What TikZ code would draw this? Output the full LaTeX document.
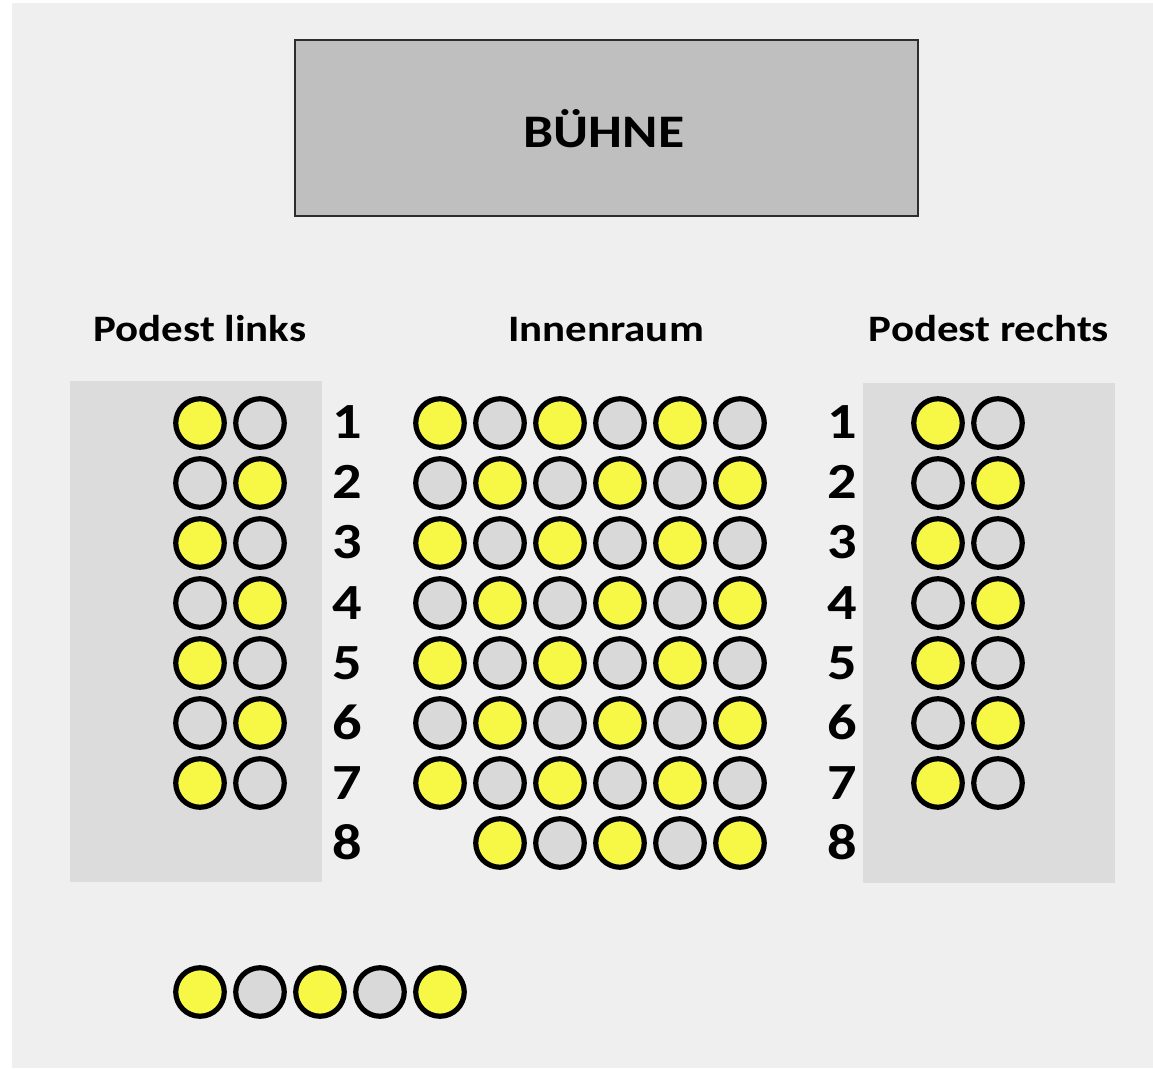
\documentclass[tikz,border=0pt]{standalone}
\usepackage{fontspec}
\setmainfont[FakeStretch=1.15]{Carlito}
\begin{document}
\begin{tikzpicture}[x=0.75pt,y=-0.75pt,
  seatY/.style={circle,draw=black,line width=3.9pt,fill=seatyellow,minimum size=48.5*0.75pt,inner sep=0pt},
  seatG/.style={circle,draw=black,line width=3.9pt,fill=seatgray,minimum size=48.5*0.75pt,inner sep=0pt},
  rownum/.style={font=\fontsize{38}{42}\selectfont\bfseries,inner sep=0pt,anchor=base},
  head/.style={font=\fontsize{28}{32}\selectfont\bfseries,inner sep=0pt,anchor=base}]
\definecolor{seatyellow}{RGB}{247,247,70}
\definecolor{seatgray}{RGB}{217,217,217}
\definecolor{bgc}{RGB}{239,239,239}
\definecolor{podc}{RGB}{220,220,220}
\definecolor{stagec}{RGB}{191,191,191}
\definecolor{stageline}{RGB}{45,45,45}
\useasboundingbox (0,0) rectangle (1153,1069);
\fill[white] (0,0) rectangle (1153,1069);
\fill[bgc] (12,3) rectangle (1153,1068);
% stage
\draw[stageline,fill=stagec,line width=1.6pt] (295,40) rectangle (918,216);
\node[font=\fontsize{35}{40}\selectfont\bfseries,inner sep=0pt,anchor=base] (stage) at (604,148) {BÜHNE};
% podiums
\fill[podc] (70,381) rectangle (322,882);
\fill[podc] (863,383) rectangle (1115,883);
% headings
\node[head] (hl) at (200,342) {Podest links};
\node[head] (hm) at (606,342) {Innenraum};
\node[head] (hr) at (989,342) {Podest rechts};
% side podium seats
\foreach \r in {1,...,7}{
  \pgfmathsetmacro{\yy}{363+60*\r}
  \pgfmathtruncatemacro{\rodd}{mod(\r,2)}
  \ifnum\rodd=1
    \node[seatY] (L\r a) at (200,\yy) {};
    \node[seatG] (L\r b) at (260,\yy) {};
    \node[seatY] (R\r a) at (938,\yy) {};
    \node[seatG] (R\r b) at (998,\yy) {};
  \else
    \node[seatG] (L\r a) at (200,\yy) {};
    \node[seatY] (L\r b) at (260,\yy) {};
    \node[seatG] (R\r a) at (938,\yy) {};
    \node[seatY] (R\r b) at (998,\yy) {};
  \fi
}
% centre seats
\foreach \r in {1,...,7}{
  \pgfmathsetmacro{\yy}{363+60*\r}
  \foreach \c in {1,...,6}{
    \pgfmathsetmacro{\xx}{380+60*\c}
    \pgfmathtruncatemacro{\parity}{mod(\r+\c,2)}
    \ifnum\parity=0
      \node[seatY] (M\r-\c) at (\xx,\yy) {};
    \else
      \node[seatG] (M\r-\c) at (\xx,\yy) {};
    \fi
  }
}
\foreach \c in {2,...,6}{
  \pgfmathsetmacro{\xx}{380+60*\c}
  \pgfmathtruncatemacro{\parity}{mod(\c,2)}
  \ifnum\parity=0
    \node[seatY] (M8-\c) at (\xx,843) {};
  \else
    \node[seatG] (M8-\c) at (\xx,843) {};
  \fi
}
% row numbers
\foreach \r in {1,...,8}{
  \pgfmathsetmacro{\yy}{379+60*\r}
  \node[rownum] (nl\r) at (347,\yy) {\r};
  \node[rownum] (nr\r) at (842,\yy) {\r};
}
% bottom row
\node[seatY] (B1) at (200,992) {};
\node[seatG] (B2) at (260,992) {};
\node[seatY] (B3) at (320,992) {};
\node[seatG] (B4) at (380,992) {};
\node[seatY] (B5) at (440,992) {};
\end{tikzpicture}
\end{document}
